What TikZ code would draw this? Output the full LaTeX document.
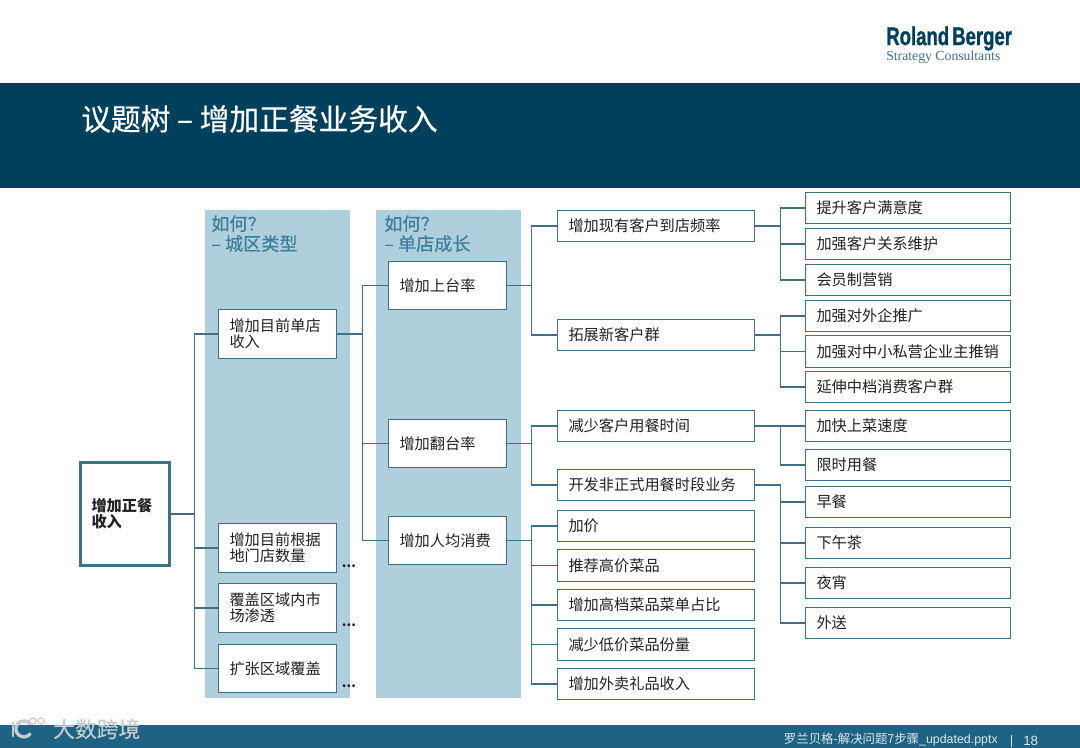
\documentclass[tikz,border=0pt]{standalone}
\usepackage{fontspec}
\setmainfont{Noto Sans CJK SC}
\newfontfamily\logofont{Liberation Sans}
\newfontfamily\subfont{Liberation Serif}
\newfontfamily\heavycjk[FakeBold=0.5]{Noto Sans CJK SC}
\newfontfamily\headcjk[FakeBold=0.3]{Noto Sans CJK SC}
\newfontfamily\logoheavy[FakeBold=1.2]{Liberation Sans Bold}
\usetikzlibrary{calc}
\definecolor{bandcol}{HTML}{00405C}
\definecolor{footcol}{HTML}{1E6384}
\definecolor{panelcol}{HTML}{AFCFDC}
\definecolor{linecol}{HTML}{3F7088}
\definecolor{headcol}{HTML}{3C7F9C}
\definecolor{txtcol}{HTML}{222222}
\definecolor{wmcol}{HTML}{C4CCD0}
\tikzset{
  boxbase/.style={draw=linecol,fill=white,line width=.95pt,outer sep=0pt,anchor=north west,align=left,
    inner xsep=8.25pt,inner ysep=0pt,text=txtcol,font=\fontsize{11.4}{12}\selectfont},
  rootbox/.style={boxbase,line width=1.7pt,font=\fontsize{11.4}{12}\selectfont\bfseries},
  conn/.style={draw=linecol,line width=.95pt},
  panel/.style={fill=panelcol,draw=none},
  headtxt/.style={anchor=north west,align=left,text=headcol,inner sep=0pt,font=\headcjk\fontsize{13.6}{15}\selectfont},
  dots/.style={inner sep=0pt,text=txtcol,font=\fontsize{10}{12}\selectfont\bfseries},
  wmline/.style={draw=wmcol,line cap=round}
}
% style, x0, y0, x1, y1, name, text
\newcommand{\bxx}[7][boxbase]{%
  \pgfmathsetmacro{\bxt}{(#4-#2)*0.75-16.5}%
  \pgfmathsetmacro{\bxh}{(#5-#3)*0.75}%
  \node[#1,minimum height=\bxh pt,text width=\bxt pt] (#6) at (#2+.5,#3+.5) {#7};}
\begin{document}
\begin{tikzpicture}[x=0.75pt,y=-0.75pt]
\useasboundingbox (0,0) rectangle (1080,748);
\fill[white] (0,0) rectangle (1080,748);
% bands
\fill[bandcol] (0,83) rectangle (1080,188);
\fill[footcol] (0,725) rectangle (1080,748);
% logo
\node[anchor=west,inner sep=0pt,text=bandcol] (logo) at (886,38.5) {\logoheavy\fontsize{17.5}{18}\selectfont\scalebox{.795}[1.1]{Roland\,Berger}};
\node[anchor=west,inner sep=0pt,text=linecol] (logosub) at (886,57.5) {\subfont\fontsize{10.3}{10}\selectfont Strategy Consultants};
% title
\node[anchor=west,inner sep=0pt,text=white] (title) at (81,119) {\heavycjk\fontsize{22.3}{24}\selectfont 议题树 – 增加正餐业务收入};
% panels
\fill[panel] (205,210) rectangle (350,698);
\fill[panel] (376,210) rectangle (521,698);
\node[headtxt] (h1) at (211,215) {如何？\\– 城区类型};
\node[headtxt] (h2) at (384,215) {如何？\\ – 单店成长};
% boxes
\bxx[rootbox]{80}{462}{169}{565}{root}{增加正餐\\收入}
\bxx{218}{309}{336}{358}{a1}{增加目前单店\\收入}
\bxx{218}{523}{336}{572}{a2}{增加目前根据\\地门店数量}
\bxx{218}{583}{336}{632}{a3}{覆盖区域内市\\场渗透}
\bxx{218}{644}{336}{692}{a4}{扩张区域覆盖}
\bxx{388}{261}{506}{309}{b1}{增加上台率}
\bxx{388}{419}{506}{467}{b2}{增加翻台率}
\bxx{388}{516}{506}{564}{b3}{增加人均消费}
\bxx{557}{210}{754}{241}{c1}{增加现有客户到店频率}
\bxx{557}{319}{754}{350}{c2}{拓展新客户群}
\bxx{557}{410}{754}{441}{c3}{减少客户用餐时间}
\bxx{557}{469}{754}{500}{c4}{开发非正式用餐时段业务}
\bxx{557}{510}{754}{541}{c5}{加价}
\bxx{557}{549}{754}{581}{c6}{推荐高价菜品}
\bxx{557}{589}{754}{620}{c7}{增加高档菜品菜单占比}
\bxx{557}{628}{754}{660}{c8}{减少低价菜品份量}
\bxx{557}{668}{754}{699}{c9}{增加外卖礼品收入}
\bxx{805}{192}{1010}{223}{d1}{提升客户满意度}
\bxx{805}{228}{1010}{259}{d2}{加强客户关系维护}
\bxx{805}{264}{1010}{295}{d3}{会员制营销}
\bxx{805}{300}{1010}{331}{d4}{加强对外企推广}
\bxx{805}{335}{1010}{367}{d5}{加强对中小私营企业主推销}
\bxx{805}{371}{1010}{402}{d6}{延伸中档消费客户群}
\bxx{805}{410}{1010}{441}{d7}{加快上菜速度}
\bxx{805}{449}{1010}{480}{d8}{限时用餐}
\bxx{805}{486}{1010}{517}{d9}{早餐}
\bxx{805}{527}{1010}{558}{d10}{下午茶}
\bxx{805}{567}{1010}{598}{d11}{夜宵}
\bxx{805}{607}{1010}{638}{d12}{外送}
% connectors
\coordinate (t0) at ($(root.east)+(25,0)$);
\draw[conn] (root.east) -- (t0);
\foreach \n in {a1,a2,a3,a4} \draw[conn] (t0) |- (\n.west);
\coordinate (t1) at ($(a1.east)+(26,0)$);
\draw[conn] (a1.east) -- (t1);
\foreach \n in {b1,b2,b3} \draw[conn] (t1) |- (\n.west);
\coordinate (t2) at ($(b1.east)+(25,0)$);
\draw[conn] (b1.east) -- (t2);
\foreach \n in {c1,c2} \draw[conn] (t2) |- (\n.west);
\coordinate (t3) at ($(b2.east)+(25,0)$);
\draw[conn] (b2.east) -- (t3);
\foreach \n in {c3,c4} \draw[conn] (t3) |- (\n.west);
\coordinate (t4) at ($(b3.east)+(25,0)$);
\draw[conn] (b3.east) -- (t4);
\foreach \n in {c5,c6,c7,c8,c9} \draw[conn] (t4) |- (\n.west);
\coordinate (t5) at ($(c1.east)+(26,0)$);
\draw[conn] (c1.east) -- (t5);
\foreach \n in {d1,d2,d3} \draw[conn] (t5) |- (\n.west);
\coordinate (t6) at ($(c2.east)+(26,0)$);
\draw[conn] (c2.east) -- (t6);
\foreach \n in {d4,d5,d6} \draw[conn] (t6) |- (\n.west);
\coordinate (t7) at ($(c3.east)+(26,0)$);
\draw[conn] (c3.east) -- (t7);
\foreach \n in {d7,d8} \draw[conn] (t7) |- (\n.west);
\coordinate (t8) at ($(c4.east)+(26,0)$);
\draw[conn] (c4.east) -- (t8);
\foreach \n in {d9,d10,d11,d12} \draw[conn] (t8) |- (\n.west);
% ellipses
\node[dots] (e1) at (349,566) {...};
\node[dots] (e2) at (349,625) {...};
\node[dots] (e3) at (349,686) {...};
% footer
\node[anchor=east,inner sep=0pt,text=white!85!footcol] (ft) at (998,740) {\fontsize{9.3}{10}\selectfont 罗兰贝格-解决问题7步骤{\logofont\_updated.pptx}};
\draw[white!85!footcol,line width=.7pt] (1011,735) -- (1011,747);
\node[anchor=west,inner sep=0pt,text=white!85!footcol] (pg) at (1023,740.5) {\logofont\fontsize{10}{10}\selectfont 18};
% watermark
\node[anchor=west,inner sep=0pt,text=wmcol] (wm) at (53,729) {\headcjk\fontsize{16.3}{18}\selectfont 大数跨境};
\draw[wmline,line width=2pt] (13,723) -- (13,736);
\draw[wmline,line width=2.5pt] (30,734) arc (40:320:8);
\draw[wmline,line width=.8pt] (33,721) circle (3.2) (41,721) circle (3.2);
\end{tikzpicture}
\end{document}
